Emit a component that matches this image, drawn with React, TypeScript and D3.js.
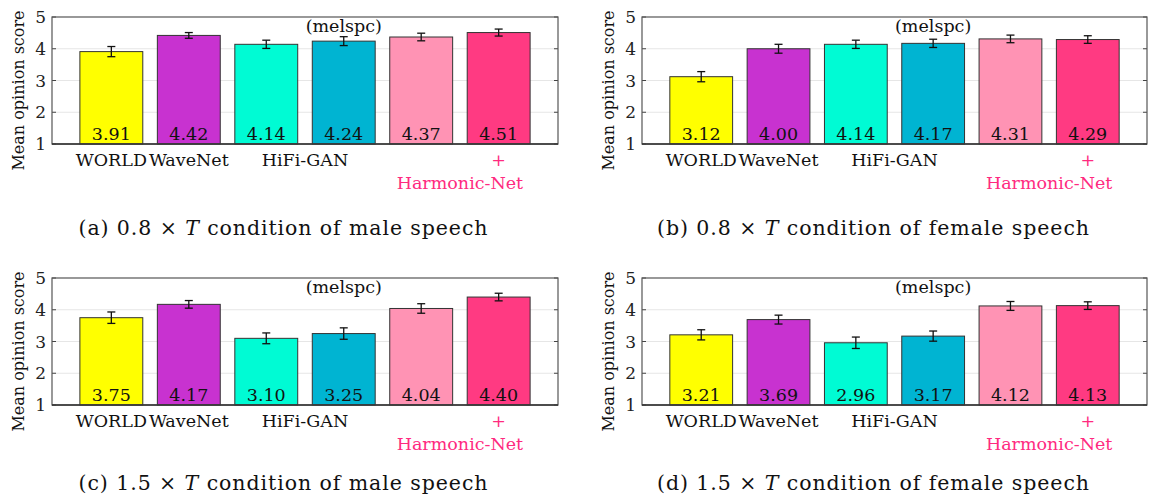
import React from "react";
import * as d3 from "d3";

const categories = ["WORLD", "WaveNet", "HiFi-GAN", "HiFi-GAN (melspc)", "Harmonic-Net", "Harmonic-Net +"];
const yTicks = [1, 2, 3, 4, 5];

const maleFast = [3.91, 4.42, 4.14, 4.24, 4.37, 4.51];
const maleFastErr = [0.16, 0.09, 0.13, 0.14, 0.12, 0.11];
const femaleFast = [3.12, 4.0, 4.14, 4.17, 4.31, 4.29];
const femaleFastErr = [0.16, 0.14, 0.13, 0.13, 0.12, 0.12];
const maleSlow = [3.75, 4.17, 3.1, 3.25, 4.04, 4.4];
const maleSlowErr = [0.18, 0.12, 0.17, 0.18, 0.15, 0.12];
const femaleSlow = [3.21, 3.69, 2.96, 3.17, 4.12, 4.13];
const femaleSlowErr = [0.16, 0.14, 0.18, 0.16, 0.14, 0.12];

const captionPrefix = ["(a) 0.8", "(b) 0.8", "(c) 1.5", "(d) 1.5"];
const captionSuffix = ["condition of male speech", "condition of female speech", "condition of male speech", "condition of female speech"];

const barColors = ["#FFFF00", "#C832D0", "#00FBD4", "#00B4D2", "#FF93B4", "#FF3A82"];
const PINK_TEXT = "#FF2A7F";
const FONT = "'DejaVu Serif', 'Noto Serif', serif";

type Panel = {
  values: number[];
  errs: number[];
  x0: number; x1: number; y0: number; y1: number;
  capX: number; capY: number; capLen: number;
};

const panels: Panel[] = [
  { values: maleFast, errs: maleFastErr, x0: 52, x1: 558, y0: 17, y1: 144, capX: 283, capY: 235, capLen: 409 },
  { values: femaleFast, errs: femaleFastErr, x0: 642, x1: 1147, y0: 17, y1: 144, capX: 873, capY: 235, capLen: 432 },
  { values: maleSlow, errs: maleSlowErr, x0: 52, x1: 558, y0: 278, y1: 405, capX: 283, capY: 490, capLen: 409 },
  { values: femaleSlow, errs: femaleSlowErr, x0: 642, x1: 1147, y0: 278, y1: 405, capX: 873, capY: 490, capLen: 432 },
];

function PanelView({ p, idx }: { p: Panel; idx: number }) {
  const x = d3.scaleBand<number>().domain(d3.range(categories.length)).range([p.x0, p.x1]).paddingInner(0.188).paddingOuter(0.36);
  const y = d3.scaleLinear().domain([1, 5]).range([p.y1, p.y0]);
  const bw = x.bandwidth();
  const cx = (i: number) => (x(i) as number) + bw / 2;
  const mid = (a: number, b: number) => (cx(a) + cx(b)) / 2;
  const lab = { fontFamily: FONT, fontSize: 17.5, fill: "#111", textAnchor: "middle" as const };
  return (
    <g>
      {yTicks.filter((t) => t > 1 && t < 5).map((t) => (
        <line key={"g" + t} x1={p.x0} x2={p.x1} y1={y(t)} y2={y(t)} stroke="#e6e6e6" strokeWidth={1} />
      ))}
      {p.values.map((v, i) => (
        <rect key={"b" + i} x={x(i)} y={y(v)} width={bw} height={y(1) - y(v)} fill={barColors[i]} stroke="#333" strokeWidth={1} />
      ))}
      {p.values.map((v, i) => {
        const e = p.errs[i];
        const c = cx(i);
        return (
          <g key={"e" + i} stroke="#111" strokeWidth={1.3}>
            <line x1={c} x2={c} y1={y(v + e)} y2={y(v - e)} />
            <line x1={c - 4} x2={c + 4} y1={y(v + e)} y2={y(v + e)} />
            <line x1={c - 4} x2={c + 4} y1={y(v - e)} y2={y(v - e)} />
          </g>
        );
      })}
      {p.values.map((v, i) => (
        <text key={"v" + i} x={cx(i)} y={p.y1 - 4} textAnchor="middle" fontSize={17.5} fontFamily={FONT} fill="#111">
          {v.toFixed(2)}
        </text>
      ))}
      {yTicks.map((t) => (
        <g key={"t" + t} stroke="#444" strokeWidth={1}>
          <line x1={p.x0} x2={p.x0 + 4} y1={y(t)} y2={y(t)} />
          <line x1={p.x1} x2={p.x1 - 4} y1={y(t)} y2={y(t)} />
        </g>
      ))}
      <rect x={p.x0} y={p.y0} width={p.x1 - p.x0} height={p.y1 - p.y0} fill="none" stroke="#555" strokeWidth={1.2} />
      <line x1={p.x0} x2={p.x1} y1={p.y1} y2={p.y1} stroke="#333" strokeWidth={1.6} />
      {yTicks.map((t) => (
        <text key={"tl" + t} x={p.x0 - 6} y={y(t)} dy="0.36em" textAnchor="end" fontSize={17} fontFamily={FONT} fill="#222">
          {t}
        </text>
      ))}
      <text
        transform={`translate(${p.x0 - 28},${(p.y0 + p.y1) / 2 + 10}) rotate(-90)`}
        textAnchor="middle"
        fontSize={16}
        fontFamily={FONT}
        fill="#111"
      >
        Mean opinion score
      </text>
      <text x={cx(0)} y={p.y1 + 21.5} {...lab}>{categories[0]}</text>
      <text x={cx(1)} y={p.y1 + 21.5} {...lab}>{categories[1]}</text>
      <text x={mid(2, 3)} y={p.y1 + 21.5} {...lab}>{categories[2]}</text>
      <text x={cx(3)} y={p.y0 + 14.5} {...lab}>(melspc)</text>
      <text x={cx(5)} y={p.y1 + 22} {...lab} fill={PINK_TEXT}>+</text>
      <text x={mid(4, 5)} y={p.y1 + 45} {...lab} fill={PINK_TEXT}>{categories[4]}</text>
      <text x={p.capX} y={p.capY} textAnchor="middle" fontSize={20.5} fontFamily={FONT} fill="#111" textLength={p.capLen} lengthAdjust="spacing">
        {captionPrefix[idx]} × <tspan fontStyle="italic">T</tspan> {captionSuffix[idx]}
      </text>
    </g>
  );
}

export default function App() {
  return (
    <svg width={1155} height={498} style={{ position: "absolute", left: 0, top: 0, background: "#fff" }}>
      <rect x={0} y={0} width={1155} height={498} fill="#fff" />
      {panels.map((p, i) => (
        <PanelView key={i} p={p} idx={i} />
      ))}
    </svg>
  );
}
